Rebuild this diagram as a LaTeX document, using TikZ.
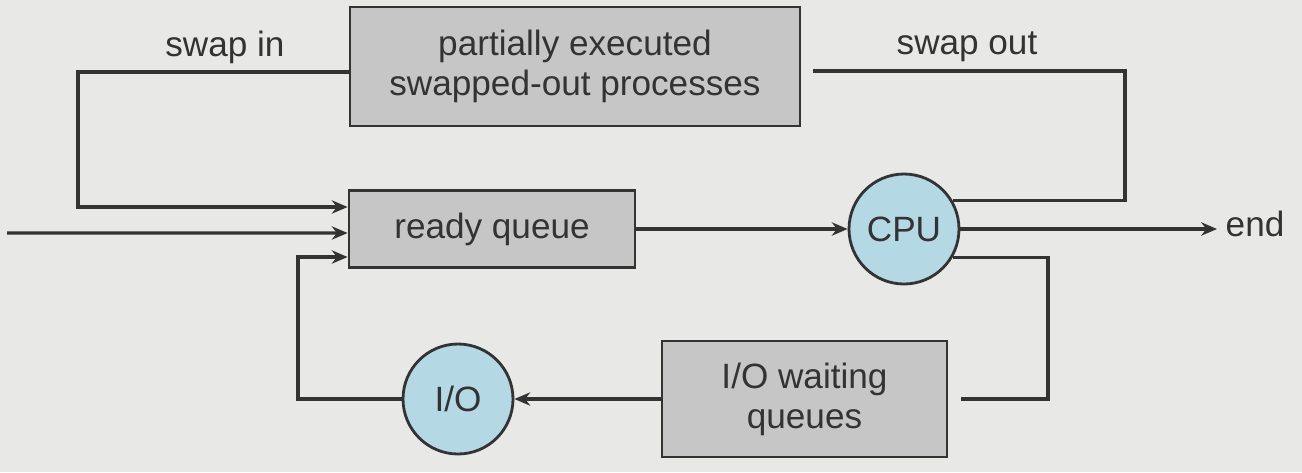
\documentclass[tikz,border=0pt]{standalone}
\usepackage{fontspec}
\setmainfont{Liberation Sans}
\usetikzlibrary{arrows.meta}
\definecolor{bg}{RGB}{232,233,231}
\definecolor{boxgray}{RGB}{198,198,198}
\definecolor{cpublue}{RGB}{180,216,228}
\definecolor{ink}{RGB}{51,51,51}
\tikzset{
  queuebox/.style={draw=ink, fill=boxgray, line width=0.8pt, align=center, inner sep=0pt},
  unit/.style={circle, draw=ink, fill=cpublue, line width=0.8pt, minimum size=1.1cm, inner sep=0pt},
  flow/.style={draw=ink, line width=0.9pt},
  arr/.style={flow, -{Stealth[length=4.5pt, width=3.8pt]}},
  lbl/.style={text=ink, inner sep=0pt}
}

\begin{document}
\begin{tikzpicture}[font=\fontsize{10}{11.4}\selectfont, text=ink]
        \fill[bg] (0,0) rectangle (13.02,4.72);
        \useasboundingbox (0,0) rectangle (13.02,4.72);

        % boxes and units
        \node[queuebox, minimum width=4.5cm, minimum height=1.19cm] (swapped) at (5.75,4.055) {partially executed\\swapped-out processes};
        \node[queuebox, minimum width=2.86cm, minimum height=0.77cm] (ready) at (4.92,2.43) {ready queue};
        \node[queuebox, minimum width=2.85cm, minimum height=1.16cm] (iowait) at (8.045,0.73) {I/O waiting\\queues};
        \node[unit] (cpu) at (9.04,2.43) {CPU};
        \node[unit] (io) at (4.58,0.73) {I/O};

        % labels
        \node[lbl] (swapin) at (2.25,4.25) {swap in};
        \node[lbl] (swapout) at (9.67,4.25) {swap out};
        \node[lbl, anchor=west] (end) at (12.25,2.48) {end};
        \coordinate (arrive) at (0.07,2.39);

        % connectors
        \draw[arr] ([yshift=-0.055cm]swapped.west) -| (0.78,2.65) -- ([yshift=0.22cm]ready.west);
        \draw[arr] (arrive) -- ([yshift=-0.04cm]ready.west);
        \draw[arr] (io.west) -| (2.98,2.15) -- ([yshift=-0.28cm]ready.west);
        \draw[arr] (ready.east) -- (cpu.west);
        \draw[arr, shorten >=0.08cm] (cpu.east) -- (cpu.east -| end.west);
        \draw[flow, shorten >=0.12cm] (cpu.30) -| (11.25,4.01) -- (swapped.east |- 0,4.01);
        \draw[flow, shorten >=0.13cm] (cpu.-30) -| (10.48,0.73) -- (iowait.east |- 0,0.73);
        \draw[arr] (iowait.west) -- (io.east);

\end{tikzpicture}
\end{document}
